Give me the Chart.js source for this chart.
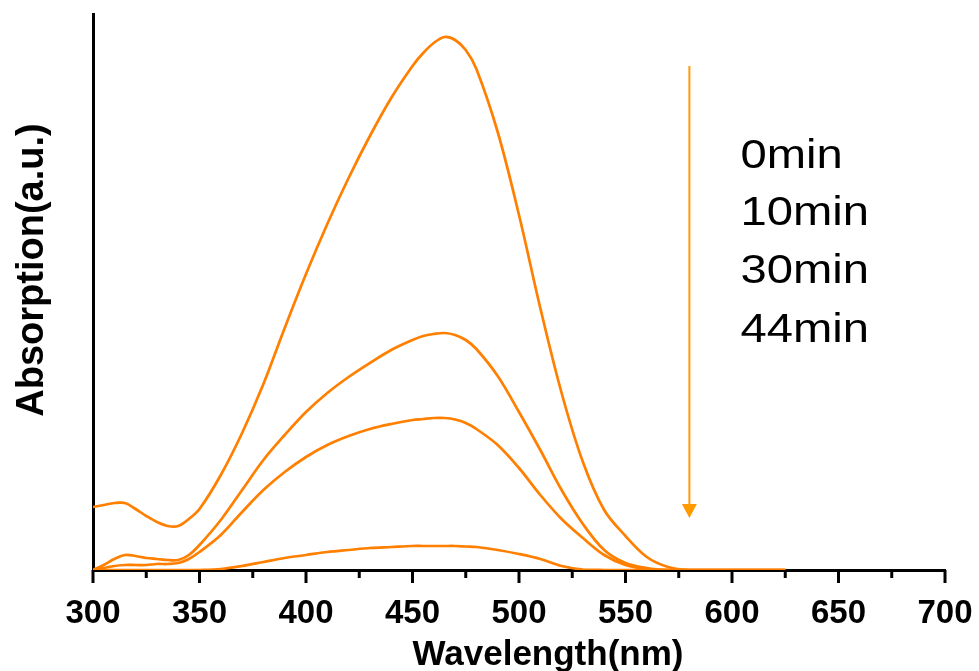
<!DOCTYPE html>
<html>
<head>
<meta charset="utf-8">
<script src="https://cdn.jsdelivr.net/npm/chart.js@4.4.1/dist/chart.umd.min.js"></script>
<style>
  html, body { margin: 0; padding: 0; background: #fff; }
  #wrap { width: 979px; height: 671px; }
</style>
</head>
<body>
<div id="wrap"><canvas id="myChart" width="979" height="671"></canvas></div>
<script>
// wavelength (nm) of every sample point
const wavelengths = [300, 305, 310, 315, 320, 325, 330, 335, 340, 345, 350, 360, 370, 380, 390, 400, 410, 420, 430, 440,
    450, 455, 460, 465, 470, 475, 480, 490, 500, 510, 520, 530, 540, 550, 560, 570, 580, 600, 625];

// absorption (a.u.)
const abs0min = [0.126, 0.130, 0.134, 0.134, 0.122, 0.108, 0.096, 0.088, 0.088, 0.102, 0.122, 0.190, 0.274, 0.372, 0.484, 0.592, 0.692, 0.784, 0.868, 0.944,
    1.008, 1.034, 1.054, 1.066, 1.060, 1.040, 1.002, 0.876, 0.710, 0.524, 0.354, 0.216, 0.120, 0.068, 0.026, 0.006, 0, 0, 0];
const abs10min = [0, 0.010, 0.022, 0.030, 0.028, 0.024, 0.022, 0.020, 0.020, 0.030, 0.050, 0.100, 0.160, 0.220, 0.270, 0.316, 0.354, 0.386, 0.414, 0.440,
    0.460, 0.468, 0.472, 0.474, 0.470, 0.460, 0.442, 0.388, 0.316, 0.240, 0.160, 0.092, 0.040, 0.014, 0.004, 0, 0, 0, 0];
const abs30min = [0, 0.004, 0.008, 0.010, 0.010, 0.010, 0.012, 0.012, 0.014, 0.022, 0.036, 0.070, 0.116, 0.160, 0.196, 0.226, 0.250, 0.268, 0.282, 0.292,
    0.300, 0.302, 0.304, 0.304, 0.301, 0.294, 0.282, 0.250, 0.204, 0.150, 0.102, 0.064, 0.030, 0.010, 0.002, 0, 0, 0, 0];
const abs44min = [0, 0, 0, 0, 0, 0, 0, 0, 0, 0, 0, 0.002, 0.008, 0.016, 0.024, 0.030, 0.036, 0.040, 0.044, 0.046,
    0.048, 0.048, 0.048, 0.048, 0.048, 0.047, 0.046, 0.040, 0.032, 0.022, 0.008, 0.001, 0, 0, 0, 0, 0, 0, 0];

const seriesNames = ['0min', '10min', '30min', '44min'];
const xTicks = [300, 350, 400, 450, 500, 550, 600, 650, 700];

// annotation: time labels and the arrow (data units)
const labelX = 604;
const labelY = [0.804, 0.690, 0.574, 0.456];
const arrowX = 580;
const arrowFrom = 1.008;
const arrowTo = 0.104;

const lineColor = '#ff7f00';

function toPoints(vals) {
    return wavelengths.map((w, i) => ({ x: w, y: vals[i] }));
}

const allSeries = [abs0min, abs10min, abs30min, abs44min];
const datasets = allSeries.map((vals, i) => ({
    label: seriesNames[i],
    data: toPoints(vals),
    borderColor: lineColor,
    borderWidth: 2.7,
    pointRadius: 0,
    fill: false,
    tension: 0.35
}));

// axis ticks (major 50, minor 25) pointing out of the plot
const tickPlugin = {
    id: 'outTicks',
    afterDraw(chart) {
        const ctx = chart.ctx;
        const xs = chart.scales.x;
        const bottom = chart.chartArea.bottom;
        ctx.save();
        ctx.strokeStyle = '#000';
        ctx.lineWidth = 3;
        for (let v = 300; v <= 700; v += 25) {
            const px = xs.getPixelForValue(v);
            const len = (v % 50 === 0) ? 13 : 8;
            ctx.beginPath();
            ctx.moveTo(px, bottom);
            ctx.lineTo(px, bottom + len);
            ctx.stroke();
        }
        ctx.restore();
    }
};

// titles, time labels, arrow
const notePlugin = {
    id: 'notes',
    afterDraw(chart) {
        const ctx = chart.ctx;
        const xs = chart.scales.x;
        const ys = chart.scales.y;
        ctx.save();

        // arrow
        const ax = xs.getPixelForValue(arrowX);
        const ay1 = ys.getPixelForValue(arrowFrom);
        const ay2 = ys.getPixelForValue(arrowTo);
        ctx.strokeStyle = '#ff9a00';
        ctx.fillStyle = '#ff9a00';
        ctx.lineWidth = 2;
        ctx.beginPath();
        ctx.moveTo(ax, ay1);
        ctx.lineTo(ax, ay2 - 10);
        ctx.stroke();
        ctx.beginPath();
        ctx.moveTo(ax - 7.5, ay2 - 14);
        ctx.lineTo(ax + 7.5, ay2 - 14);
        ctx.lineTo(ax, ay2);
        ctx.closePath();
        ctx.fill();

        // time labels
        ctx.fillStyle = '#000';
        ctx.font = '40px "Liberation Sans", Arial, sans-serif';
        ctx.textAlign = 'left';
        ctx.textBaseline = 'alphabetic';
        const lx = xs.getPixelForValue(labelX);
        seriesNames.forEach((name, i) => {
            ctx.save();
            ctx.translate(lx, ys.getPixelForValue(labelY[i]));
            ctx.scale(1.18, 1);
            ctx.fillText(name, 0, 0);
            ctx.restore();
        });

        // axis titles
        ctx.font = 'bold 35px "Liberation Sans", Arial, sans-serif';
        ctx.textAlign = 'center';
        ctx.fillText('Wavelength(nm)', 548, 665);

        ctx.font = 'bold 38px "Liberation Sans", Arial, sans-serif';
        ctx.save();
        ctx.translate(43, 270);
        ctx.rotate(-Math.PI / 2);
        ctx.fillText('Absorption(a.u.)', 0, 0);
        ctx.restore();

        ctx.restore();
    }
};

const ctx = document.getElementById('myChart').getContext('2d');
const myChart = new Chart(ctx, {
    type: 'line',
    data: { datasets: datasets },
    options: {
        responsive: false,
        animation: false,
        layout: { padding: { top: 14, right: 34, left: 0, bottom: 0 } },
        plugins: {
            legend: { display: false },
            tooltip: { enabled: false }
        },
        scales: {
            x: {
                type: 'linear',
                min: 300,
                max: 700,
                afterFit(scale) {
                    scale.height = 101;
                    scale.paddingLeft = 0;
                    scale.paddingRight = 0;
                },
                afterBuildTicks(scale) { scale.ticks = xTicks.map(v => ({ value: v })); },
                grid: { display: false },
                border: { display: true, color: '#000', width: 3 },
                ticks: {
                    color: '#000',
                    padding: 16,
                    maxRotation: 0,
                    font: { family: '"Liberation Sans", Arial, sans-serif', size: 33, weight: 'bold' }
                }
            },
            y: {
                min: 0,
                max: 1.112,
                afterFit(scale) { scale.width = 93; },
                grid: { display: false },
                border: { display: true, color: '#000', width: 3 },
                ticks: { display: false }
            }
        }
    },
    plugins: [tickPlugin, notePlugin]
});
</script>
</body>
</html>
